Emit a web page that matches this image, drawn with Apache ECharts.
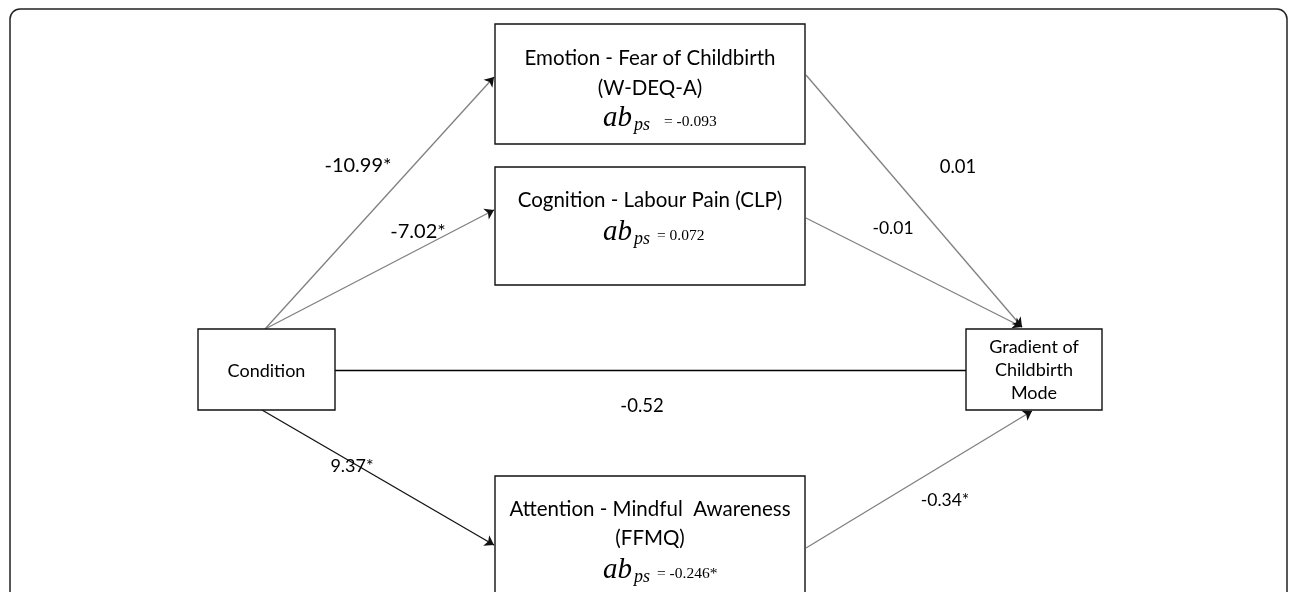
<!DOCTYPE html>
<html>
<head>
<meta charset="utf-8">
<script src="https://cdn.jsdelivr.net/npm/echarts@6/dist/echarts.min.js"></script>
<style>
  html, body { margin: 0; padding: 0; background: #fff; }
  #chart { width: 1292px; height: 592px; }
</style>
</head>
<body>
<div id="chart"></div>
<script>
// --- data ---
const nodeNames = ['Condition', 'Emotion', 'Cognition', 'Attention', 'Outcome'];
const nodeLabels = [
  'Condition',
  'Emotion - Fear of Childbirth\n(W-DEQ-A)',
  'Cognition - Labour Pain (CLP)',
  'Attention - Mindful  Awareness\n(FFMQ)',
  'Gradient of\nChildbirth\nMode'
];
const effectSizes = ['', '-0.093', '0.072', '-0.246*', ''];
const pathFrom = [0, 0, 0, 0, 1, 2, 3];
const pathTo = [1, 2, 4, 3, 4, 4, 4];
const pathCoefs = ['-10.99*', '-7.02*', '-0.52', '9.37*', '0.01', '-0.01', '-0.34*'];

// --- layout (pixels, top-left origin) ---
// box: [x0, y0, x1, y1, fontSize, firstLineY, lineHeight, formulaY, formulaGap]
const boxLayout = [
  [198, 329, 335, 410, 18, 371, 23, 0, 0],
  [495, 24, 805, 144, 20.5, 58, 30, 118, 13],
  [495, 167, 805, 285, 20.5, 200, 30, 232, 6],
  [495, 476, 805, 640, 20.5, 509, 29, 570, 6]
  ,
  [966, 329, 1102, 410, 18, 347, 23, 0, 0]
];
// edge anchors [x1, y1, x2, y2]
const edgeLayout = [
  [265, 329, 494, 77],
  [265, 329, 494, 210],
  [335, 370, 966, 370],
  [262, 410, 494, 545],
  [806, 75, 1022, 327],
  [806, 218, 1022, 327],
  [806, 548, 1032, 411]
];
const edgeColors = ['#808080', '#808080', '#000', '#111', '#808080', '#808080', '#808080'];
// coefficient label positions [x, y, fontSize]
const coefLayout = [
  [358, 166, 20], [418, 232, 20], [642, 406, 18.5], [352, 466, 18],
  [958, 167, 18.5], [893, 228, 17.5], [945, 500, 17.5]
];

const myChart = echarts.init(document.getElementById('chart'));

function renderBox(params, api) {
  const i = api.value(0);
  const b = boxLayout[i];
  const p0 = api.coord([b[0], b[1]]);
  const p1 = api.coord([b[2], b[3]]);
  const cx = (p0[0] + p1[0]) / 2;
  const children = [{
    type: 'rect',
    shape: { x: p0[0], y: p0[1], width: p1[0] - p0[0], height: p1[1] - p0[1] },
    style: { fill: '#fff', stroke: '#111', lineWidth: 1.4 }
  }];
  const lines = nodeLabels[i].split('\n');
  lines.forEach((t, k) => {
    const p = api.coord([0, b[5] + k * b[6]]);
    children.push({
      type: 'text', x: cx, y: p[1],
      style: {
        text: t, fill: '#000', fontSize: b[4], fontFamily: 'Lato',
        align: 'center', verticalAlign: 'middle'
      }
    });
  });
  if (effectSizes[i]) {
    const fy = api.coord([0, b[7]])[1];
    const x0 = cx - 47;
    children.push({
      type: 'text', x: x0, y: fy,
      style: { text: 'ab', fill: '#000', fontSize: 29, fontStyle: 'italic', fontFamily: 'Liberation Serif', align: 'left', verticalAlign: 'middle' }
    });
    children.push({
      type: 'text', x: x0 + 31, y: fy + 7,
      style: { text: 'ps', fill: '#000', fontSize: 18, fontStyle: 'italic', fontFamily: 'Liberation Serif', align: 'left', verticalAlign: 'middle' }
    });
    children.push({
      type: 'text', x: x0 + 31 + 17 + b[8], y: fy + 4,
      style: { text: '= ' + effectSizes[i], fill: '#000', fontSize: 15.5, fontFamily: 'Liberation Serif', align: 'left', verticalAlign: 'middle' }
    });
  }
  return { type: 'group', children: children };
}

function renderCoef(params, api) {
  const i = api.value(0);
  const c = coefLayout[i];
  const p = api.coord([c[0], c[1]]);
  return {
    type: 'text', x: p[0], y: p[1],
    style: {
      text: pathCoefs[i], fill: '#000', fontSize: c[2], fontFamily: 'Lato',
      align: 'center', verticalAlign: 'middle'
    }
  };
}

const arrowEdges = [];
const plainEdges = [];
const arrowHeads = [];
pathFrom.forEach((f, i) => {
  const e = edgeLayout[i];
  const item = {
    name: nodeNames[f] + ' -> ' + nodeNames[pathTo[i]],
    coords: [[e[0], e[1]], [e[2], e[3]]],
    lineStyle: { color: edgeColors[i] }
  };
  if (i === 2) {
    plainEdges.push(item);
  } else {
    arrowEdges.push(item);
    // short dark segment at the end carrying the arrow head
    const dx = e[2] - e[0], dy = e[3] - e[1];
    const len = Math.sqrt(dx * dx + dy * dy);
    arrowHeads.push({ coords: [[e[2] - dx / len * 3, e[3] - dy / len * 3], [e[2], e[3]]] });
  }
});

const option = {
  animation: false,
  backgroundColor: '#fff',
  grid: { left: 0, right: 0, top: 0, bottom: 0 },
  xAxis: { type: 'value', min: 0, max: 1292, show: false },
  yAxis: { type: 'value', min: 0, max: 592, inverse: true, show: false },
  graphic: [{
    type: 'rect', z: -1,
    shape: { x: 10, y: 9, width: 1277, height: 700, r: 10 },
    style: { fill: 'none', stroke: '#222', lineWidth: 1.5 }
  }],
  series: [
    {
      type: 'lines', coordinateSystem: 'cartesian2d', z: 1,
      symbol: ['none', 'none'],
      lineStyle: { width: 1.3, opacity: 1 },
      data: arrowEdges
    },
    {
      type: 'lines', coordinateSystem: 'cartesian2d', z: 1,
      symbol: ['none', 'arrow'], symbolSize: 9,
      lineStyle: { width: 1, color: '#111', opacity: 1 },
      data: arrowHeads
    },
    {
      type: 'lines', coordinateSystem: 'cartesian2d', z: 1,
      symbol: ['none', 'none'],
      lineStyle: { width: 1.3, opacity: 1 },
      data: plainEdges
    },
    {
      type: 'custom', z: 2, clip: false,
      renderItem: renderBox,
      data: nodeNames.map((n, i) => [i])
    },
    {
      type: 'custom', z: 3,
      renderItem: renderCoef,
      data: pathCoefs.map((c, i) => [i])
    }
  ]
};
myChart.setOption(option);
</script>
</body>
</html>
